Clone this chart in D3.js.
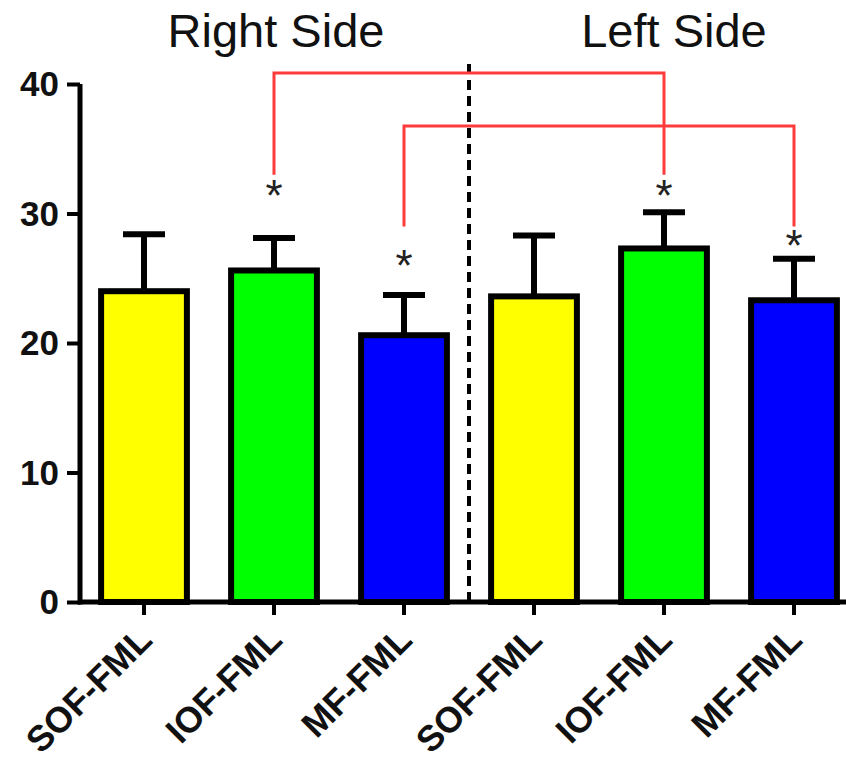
<!DOCTYPE html>
<html>
<head>
<meta charset="utf-8">
<script src="https://cdn.jsdelivr.net/npm/d3@7"></script>
<style>
  body { margin: 0; background: #fff; }
  svg { display: block; font-family: "Liberation Sans", Arial, sans-serif; }
</style>
</head>
<body>
<svg width="846" height="764"></svg>
<script>
// data
var categories = ['SOF-FML', 'IOF-FML', 'MF-FML', 'SOF-FML ', 'IOF-FML ', 'MF-FML '];
var labels = ['SOF-FML', 'IOF-FML', 'MF-FML', 'SOF-FML', 'IOF-FML', 'MF-FML'];
var means = [24.0, 25.6, 20.6, 23.6, 27.3, 23.3];
var upper = [28.4, 28.1, 23.7, 28.3, 30.1, 26.5];
var colors = ['#ffff00', '#00ff00', '#0000ff', '#ffff00', '#00ff00', '#0000ff'];
var yTicks = [0, 10, 20, 30, 40];
var sides = ['Right Side', 'Left Side'];
// significance brackets: [from bar, to bar, top level, foot level]
var brackets = [[1, 4, 40.85, 33.0], [2, 5, 36.75, 29.0]];
var starBars = [1, 2, 4, 5];
var starLevels = [31.6, 26.2, 31.6, 27.7];

var svg = d3.select('svg');

var x = d3.scaleBand().domain(categories).range([79, 859]).paddingInner(0.34).paddingOuter(0.17);
var y = d3.scaleLinear().domain([0, 40]).range([602, 84]);

function cx(i) { return x(categories[i]) + x.bandwidth() / 2; }

// titles
svg.append('text').attr('x', 276).attr('y', 47).attr('text-anchor', 'middle')
  .attr('font-size', 47).attr('fill', '#111').text(sides[0]);
svg.append('text').attr('x', 674).attr('y', 47).attr('text-anchor', 'middle')
  .attr('font-size', 47).attr('fill', '#111').text(sides[1]);

// dashed separator between the sides
var sepX = (cx(2) + cx(3)) / 2;
svg.append('line').attr('x1', sepX).attr('x2', sepX).attr('y1', 64).attr('y2', 600)
  .attr('stroke', '#000').attr('stroke-width', 4).attr('stroke-dasharray', '10,6');

// brackets
brackets.forEach(function (b) {
  var pts = [[cx(b[0]), y(b[3])], [cx(b[0]), y(b[2])], [cx(b[1]), y(b[2])], [cx(b[1]), y(b[3])]];
  svg.append('path').attr('d', d3.line()(pts)).attr('fill', 'none')
    .attr('stroke', '#ff3b3b').attr('stroke-width', 3);
});

// error bars
var eb = svg.append('g');
means.forEach(function (m, i) {
  eb.append('line').attr('x1', cx(i)).attr('x2', cx(i)).attr('y1', y(m)).attr('y2', y(upper[i]))
    .attr('stroke', '#000').attr('stroke-width', 6);
  eb.append('line').attr('x1', cx(i) - 21).attr('x2', cx(i) + 21).attr('y1', y(upper[i])).attr('y2', y(upper[i]))
    .attr('stroke', '#000').attr('stroke-width', 6);
});

// bars
svg.append('g').selectAll('rect').data(means).join('rect')
  .attr('x', function (d, i) { return x(categories[i]); })
  .attr('y', function (d) { return y(d); })
  .attr('width', x.bandwidth())
  .attr('height', function (d) { return y(0) - y(d); })
  .attr('fill', function (d, i) { return colors[i]; })
  .attr('stroke', '#000').attr('stroke-width', 6);

// stars
starBars.forEach(function (b, i) {
  svg.append('text').attr('x', cx(b)).attr('y', y(starLevels[i]) + 18).attr('text-anchor', 'middle')
    .attr('font-size', 44).attr('fill', '#222').text('*');
});

// y axis
var yAxis = svg.append('g').attr('transform', 'translate(80,0)')
  .call(d3.axisLeft(y).tickValues(yTicks).tickSize(13).tickPadding(8));
yAxis.select('.domain').attr('stroke-width', 5).attr('d', 'M0,' + (y(0) + 2.5) + 'V' + y(40));
yAxis.selectAll('.tick line').attr('stroke-width', 4);
yAxis.selectAll('.tick text').attr('font-size', 35).attr('font-weight', 'bold')
  .attr('fill', '#111').attr('dy', '0.33em').attr('font-family', '"Liberation Sans", Arial, sans-serif');

// x axis
var xAxis = svg.append('g').attr('transform', 'translate(0,' + y(0) + ')')
  .call(d3.axisBottom(x).tickSize(13).tickFormat(function (d, i) { return labels[i]; }));
xAxis.select('.domain').attr('stroke-width', 5).attr('d', 'M78,0H846');
xAxis.selectAll('.tick line').attr('stroke-width', 4);
xAxis.selectAll('.tick text').attr('font-size', 36).attr('font-weight', 'bold').attr('fill', '#111')
  .attr('font-family', '"Liberation Sans", Arial, sans-serif')
  .attr('text-anchor', 'end').attr('dy', 0).attr('y', 0)
  .attr('transform', 'translate(10,40) rotate(-45)');
</script>
</body>
</html>
